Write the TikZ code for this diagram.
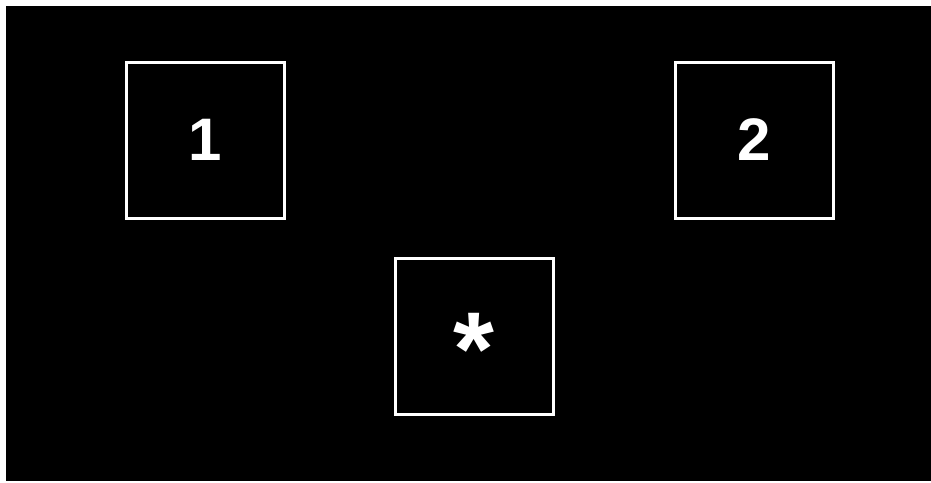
\documentclass[tikz,border=0pt]{standalone}
\usepackage{fontspec}
\setmainfont{Liberation Sans}
\begin{document}
\begin{tikzpicture}[x=1pt,y=-1pt,
  cell/.style={draw=white, line width=3pt, minimum width=158pt, minimum height=156pt, inner sep=0pt, text=white, font=\bfseries\fontsize{60}{60}\selectfont},
  star/.style={text=white, inner sep=0pt, font=\bfseries\fontsize{105}{105}\selectfont}]
\useasboundingbox (0,0) rectangle (931,482);
\fill[white] (0,0) rectangle (931,482);
\fill[black] (6,6) rectangle (931,481);
\node[cell] (one) at (205.3,140) {1};
\node[cell] (two) at (754,140) {2};
\node[cell] (any) at (474,336) {};
\node[star, anchor=base] (anytext) at (474,385.5) {*};
\end{tikzpicture}
\end{document}
